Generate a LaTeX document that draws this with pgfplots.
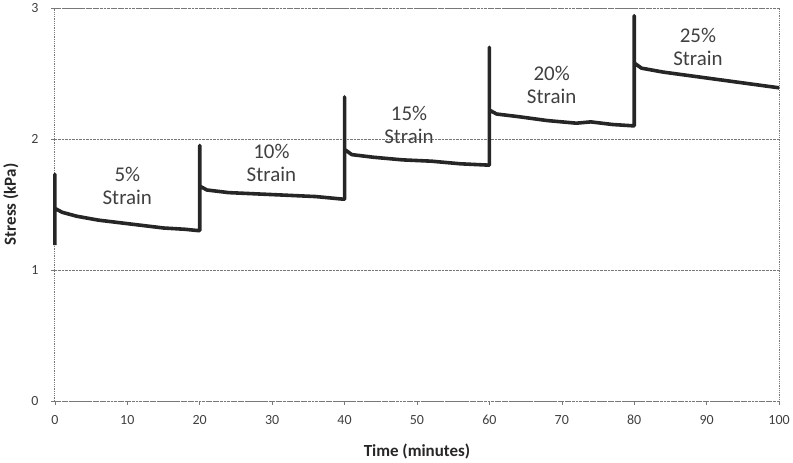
\documentclass[border=0pt]{standalone}
\usepackage{pgfplots}
\pgfplotsset{compat=1.18}
\usepackage{fontspec}
\setmainfont{Carlito}
\definecolor{gridgray}{RGB}{120,120,120}

\begin{document}
\begin{tikzpicture}
\begin{axis}[
    scale only axis,
    width=726pt, height=394pt,
    xmin=0, xmax=100, ymin=0, ymax=3,
    xtick={0,10,...,100}, ytick={0,1,2,3},
    axis line style={gridgray, densely dotted, line width=0.8pt},
    ymajorgrids,
    grid style={gridgray, densely dotted, line width=0.8pt},
    tick style={gridgray, line width=0.6pt},
    major tick length=4pt,
    tick align=outside,
    xtick pos=bottom, ytick pos=left,
    ticklabel style={font=\fontsize{14}{16}\selectfont, text=black!75},
    xticklabel style={yshift=-7pt},
    yticklabel style={xshift=-9pt},
    /pgf/number format/assume math mode=true,
    xlabel={\textbf{Time (minutes)}},
    ylabel={\textbf{Stress (kPa)}},
    label style={font=\fontsize{17}{19}\selectfont, text=black!85},
    xlabel style={yshift=-12pt},
    ylabel style={yshift=6pt},
    clip=false,
]
\addplot[black!85, line width=3.6pt, line join=round] coordinates {
    (0,1.19) (0,1.73) (0,1.47) (1,1.44) (3,1.41) (6,1.38) (9,1.36)
    (12,1.34) (15,1.32) (18,1.31) (19.8,1.30)
    (20,1.30) (20,1.95) (20,1.64) (21,1.61) (24,1.59) (28,1.58)
    (32,1.57) (36,1.56) (39.8,1.54)
    (40,1.54) (40,2.32) (40,1.92) (41,1.88) (44,1.86) (48,1.84)
    (52,1.83) (56,1.81) (59.8,1.80)
    (60,1.80) (60,2.70) (60,2.22) (61,2.19) (64,2.17) (68,2.14)
    (72,2.12) (74,2.13) (77,2.11) (79.8,2.10)
    (80,2.10) (80,2.94) (80,2.58) (81,2.54) (84,2.51) (88,2.48)
    (92,2.45) (96,2.42) (100,2.39)
};
\node[align=center, font=\fontsize{21}{23}\selectfont, text=black!75] at (axis cs:10,1.64) {5\%\\Strain};
\node[align=center, font=\fontsize{21}{23}\selectfont, text=black!75] at (axis cs:29.9,1.82) {10\%\\Strain};
\node[align=center, font=\fontsize{21}{23}\selectfont, text=black!75] at (axis cs:48.9,2.11) {15\%\\Strain};
\node[align=center, font=\fontsize{21}{23}\selectfont, text=black!75] at (axis cs:68.6,2.41) {20\%\\Strain};
\node[align=center, font=\fontsize{21}{23}\selectfont, text=black!75] at (axis cs:88.8,2.70) {25\%\\Strain};
\end{axis}
\end{tikzpicture}
\end{document}
